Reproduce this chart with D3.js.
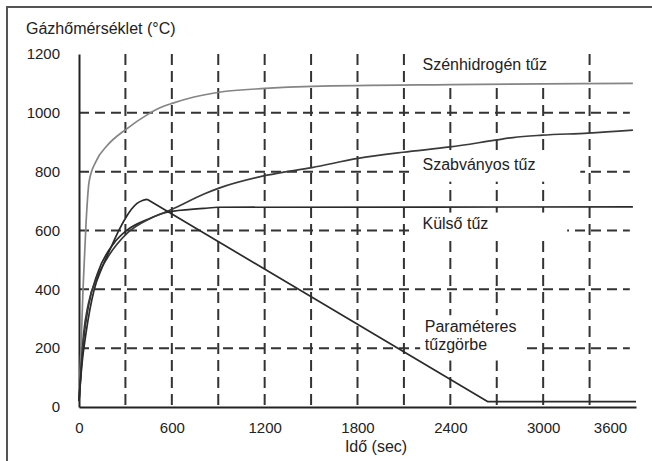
<!DOCTYPE html>
<html>
<head>
<meta charset="utf-8">
<script src="https://cdn.jsdelivr.net/npm/d3@7"></script>
<style>
  html, body { margin: 0; padding: 0; background: #fff; }
  svg text { font-family: "Liberation Sans", Arial, sans-serif; fill: #222; }
</style>
</head>
<body>
<svg id="chart"></svg>
<script>
const width = 652, height = 461;

// tick labels and grid
const xTicks = [0, 600, 1200, 1800, 2400, 3000, 3600];
const yTicks = [0, 200, 400, 600, 800, 1000, 1200];
const gridX  = [300, 600, 900, 1200, 1500, 1800, 2100, 2400, 2700, 3000, 3300];
const gridY  = [200, 400, 600, 800, 1000];

// series, [time (sec), temperature (°C)]
const hydrocarbon = [[0, 20], [13, 200], [26, 400], [45, 620], [65, 765], [110, 835], [181, 888],
	[304, 944], [440, 993], [523, 1017], [607, 1033], [737, 1053], [905, 1070], [1202, 1083],
	[1506, 1090], [2400, 1096], [3580, 1100]];
const standard = [[0, 20], [30, 250], [60, 350], [120, 445], [181, 505], [310, 590], [465, 642],
	[601, 672], [808, 724], [905, 744], [1215, 788], [1506, 814], [1803, 845], [2094, 866],
	[2398, 884], [2689, 907], [2805, 916], [2992, 924], [3290, 931], [3580, 941]];
const external = [[0, 20], [30, 230], [60, 340], [120, 455], [226, 557], [310, 601], [440, 637],
	[569, 662], [808, 675], [900, 679], [3580, 680]];
const parametric = [[0, 20], [20, 150], [45, 250], [70, 330], [97, 397], [150, 475], [207, 543],
	[260, 603], [304, 645], [340, 673], [375, 692], [410, 702], [440, 706], [2643, 18], [3600, 18]];
const parametricPeak = 440;

// curve labels: anchor + white knock-out box, all in data units
const labels = [
	{ lines: ['Szénhidrogén tűz'], t: 2220, v: 1145, box: [2140, 3240, 1105, 1215] },
	{ lines: ['Szabványos tűz'],   t: 2220, v: 805,  box: [2160, 3240, 766, 860] },
	{ lines: ['Külső tűz'],        t: 2220, v: 605,  box: [2160, 3155, 566, 661] },
	{ lines: ['Paraméteres', 'tűzgörbe'], t: 2235, v: 254, box: [2205, 2885, 158, 312] }
];

const svg = d3.select('svg#chart').attr('width', width).attr('height', height);
const x = d3.scaleLinear().domain([0, 3600]).range([79, 636]);
const y = d3.scaleLinear().domain([0, 1200]).range([407, 54]);

// outer frame (only top/left edges are visible in the picture)
svg.append('rect').attr('x', 7).attr('y', 7).attr('width', 700).attr('height', 500)
	.attr('fill', 'none').attr('stroke', '#555').attr('stroke-width', 2);

// dashed grid
svg.append('g').selectAll('line').data(gridX).join('line')
	.attr('x1', d => x(d)).attr('x2', d => x(d))
	.attr('y1', y(1200)).attr('y2', y(0))
	.attr('stroke', '#333').attr('stroke-width', 2).attr('stroke-dasharray', '11,6');
svg.append('g').selectAll('line').data(gridY).join('line')
	.attr('x1', x(0)).attr('x2', x(3560))
	.attr('y1', d => y(d)).attr('y2', d => y(d))
	.attr('stroke', '#333').attr('stroke-width', 2).attr('stroke-dasharray', '10,6');

// label knock-outs
svg.append('g').selectAll('rect').data(labels).join('rect')
	.attr('x', d => x(d.box[0])).attr('width', d => x(d.box[1]) - x(d.box[0]))
	.attr('y', d => y(d.box[3])).attr('height', d => y(d.box[2]) - y(d.box[3]))
	.attr('fill', '#fff');

// axes
const fmt = d3.format('d');
const yAxis = svg.append('g').attr('transform', `translate(${x(0)},0)`)
	.call(d3.axisLeft(y).tickValues(yTicks).tickFormat(fmt).tickSize(0).tickPadding(19));
const xAxis = svg.append('g').attr('transform', `translate(0,${y(0)})`)
	.call(d3.axisBottom(x).tickValues(xTicks).tickFormat(fmt).tickSize(0).tickPadding(15));
[xAxis, yAxis].forEach(a => {
	a.select('.domain').attr('stroke', '#222').attr('stroke-width', 2);
	a.selectAll('text').style('font-size', '15px').attr('fill', '#222');
});
xAxis.selectAll('.tick text').filter(d => d === 3600).attr('dx', -26);

// curves
const smooth = d3.line().x(d => x(d[0])).y(d => y(d[1])).curve(d3.curveMonotoneX);
const straight = d3.line().x(d => x(d[0])).y(d => y(d[1]));
const series = [
	{ data: hydrocarbon, line: smooth,   color: '#858585' },
	{ data: external,    line: smooth,   color: '#2a2a2a' },
	{ data: standard,    line: smooth,   color: '#3a3a3a' },
	{ data: parametric.filter(d => d[0] <= parametricPeak), line: smooth,   color: '#2a2a2a' },
	{ data: parametric.filter(d => d[0] >= parametricPeak), line: straight, color: '#2a2a2a' }
];
svg.append('g').selectAll('path').data(series).join('path')
	.attr('d', d => d.line(d.data))
	.attr('fill', 'none').attr('stroke', d => d.color)
	.attr('stroke-width', 1.7).attr('stroke-linejoin', 'round');

// curve labels
const lbl = svg.append('g').selectAll('text').data(labels).join('text')
	.attr('x', d => x(d.t)).attr('y', d => y(d.v))
	.style('font-size', '16px');
lbl.selectAll('tspan').data(d => d.lines.map(s => ({ s, t: d.t }))).join('tspan')
	.attr('x', d => x(d.t)).attr('dy', (d, i) => i ? 18 : 0).text(d => d.s);

// titles
svg.append('text').attr('x', 26).attr('y', 34).style('font-size', '16px').text('Gázhőmérséklet (°C)');
svg.append('text').attr('x', 376).attr('y', 452).attr('text-anchor', 'middle')
	.style('font-size', '16px').text('Idő (sec)');
</script>
</body>
</html>
